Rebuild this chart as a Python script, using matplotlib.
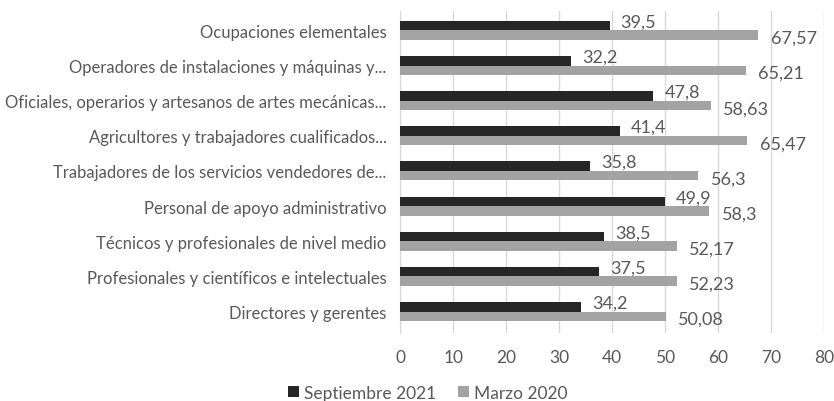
import numpy as np
import matplotlib.pyplot as plt

plt.rcParams['font.family'] = ['Lato', 'DejaVu Sans']

ocupaciones = [
    'Directores y gerentes',
    'Profesionales y científicos e intelectuales',
    'Técnicos y profesionales de nivel medio',
    'Personal de apoyo administrativo',
    'Trabajadores de los servicios vendedores de...',
    'Agricultores y trabajadores cualificados...',
    'Oficiales, operarios y artesanos de artes mecánicas...',
    'Operadores de instalaciones y máquinas y...',
    'Ocupaciones elementales',
]
sep_2021 = [34.2, 37.5, 38.5, 49.9, 35.8, 41.4, 47.8, 32.2, 39.5]
mar_2020 = [50.08, 52.23, 52.17, 58.3, 56.3, 65.47, 58.63, 65.21, 67.57]
etiq_2021 = ['34,2', '37,5', '38,5', '49,9', '35,8', '41,4', '47,8', '32,2', '39,5']
etiq_2020 = ['50,08', '52,23', '52,17', '58,3', '56,3', '65,47', '58,63', '65,21', '67,57']

texto = '#595959'
oscuro = '#262626'
gris = '#a3a3a3'

fig, ax = plt.subplots(figsize=(8.34, 4.02), dpi=100)
fig.subplots_adjust(left=0.48, right=0.988, top=0.97, bottom=0.17)

y = np.arange(len(ocupaciones))
h = 0.27
b1 = ax.barh(y + h / 2, sep_2021, height=h, color=oscuro, label='Septiembre 2021', zorder=3)
b2 = ax.barh(y - h / 2, mar_2020, height=h, color=gris, label='Marzo 2020', zorder=3)

# etiquetas de valor a la derecha de cada barra
for i in range(len(y)):
    ax.annotate(etiq_2021[i], (sep_2021[i], y[i] + h / 2), xytext=(8, 3),
                textcoords='offset points', va='center', ha='left',
                fontsize=13, color=texto)
    ax.annotate(etiq_2020[i], (mar_2020[i], y[i] - h / 2), xytext=(9, -2),
                textcoords='offset points', va='center', ha='left',
                fontsize=13, color=texto)

ax.set_xlim(0, 80)
ax.set_ylim(-0.6, len(y) - 0.45)
ax.set_xticks(range(0, 81, 10))
ax.set_yticks(y)
ax.set_yticklabels(ocupaciones)
ax.tick_params(axis='both', length=0, labelsize=12, labelcolor=texto)
ax.tick_params(axis='x', pad=12, labelsize=12.5)
ax.tick_params(axis='y', pad=10)
ax.grid(axis='x', color='#d9d9d9', linewidth=1, zorder=0)
for s in ['top', 'right', 'bottom']:
    ax.spines[s].set_visible(False)
ax.spines['left'].set_color('#d9d9d9')

fig.legend(handles=[b1, b2], loc='lower center', bbox_to_anchor=(0.513, -0.038),
           ncol=2, frameon=False, fontsize=12.5, labelcolor=texto,
           handlelength=0.6, handleheight=0.6, handletextpad=0.3, columnspacing=1.3)

fig.savefig('out.png')
